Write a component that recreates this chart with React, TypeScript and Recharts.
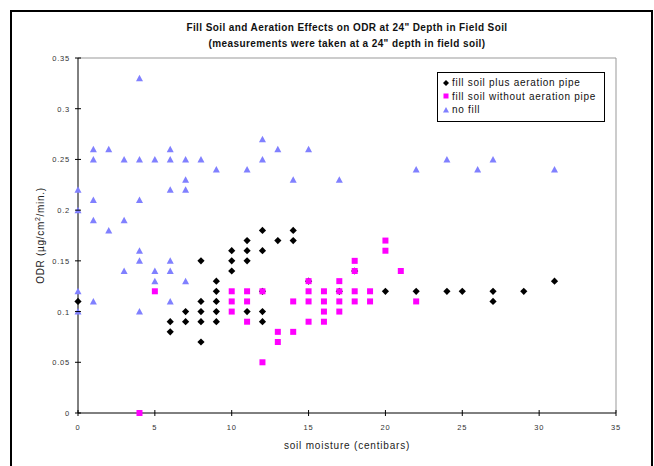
import { ScatterChart, Scatter, XAxis, YAxis, ReferenceLine, Legend } from "recharts";

const FONT = '"Liberation Sans", Arial, sans-serif';

const X_TICKS = [0, 5, 10, 15, 20, 25, 30, 35];
const Y_TICKS = [0, 0.05, 0.1, 0.15, 0.2, 0.25, 0.3, 0.35];

const SERIES_NAMES = [
  "fill soil plus aeration pipe",
  "fill soil without aeration pipe",
  "no fill",
];

// [soil moisture, ODR]
const withPipe: [number, number][] = [
  [0, 0.11], [6, 0.09], [6, 0.08], [7, 0.1], [7, 0.09],
  [8, 0.15], [8, 0.11], [8, 0.1], [8, 0.09], [8, 0.07],
  [9, 0.13], [9, 0.12], [9, 0.11], [9, 0.1], [9, 0.09],
  [10, 0.16], [10, 0.15], [10, 0.14],
  [11, 0.17], [11, 0.16], [11, 0.15], [11, 0.1],
  [12, 0.18], [12, 0.16], [12, 0.12], [12, 0.1], [12, 0.09],
  [13, 0.17], [14, 0.18], [14, 0.17],
  [15, 0.13], [17, 0.12], [18, 0.14],
  [20, 0.12], [22, 0.12], [24, 0.12], [25, 0.12],
  [27, 0.12], [27, 0.11], [29, 0.12], [31, 0.13],
];

const withoutPipe: [number, number][] = [
  [4, 0], [5, 0.12],
  [10, 0.12], [10, 0.11], [10, 0.1],
  [11, 0.12], [11, 0.11], [11, 0.09],
  [12, 0.12], [12, 0.05],
  [13, 0.08], [13, 0.07],
  [14, 0.11], [14, 0.08],
  [15, 0.13], [15, 0.12], [15, 0.11], [15, 0.09],
  [16, 0.12], [16, 0.11], [16, 0.1], [16, 0.09],
  [17, 0.13], [17, 0.12], [17, 0.11], [17, 0.1],
  [18, 0.15], [18, 0.14], [18, 0.12], [18, 0.11],
  [19, 0.12], [19, 0.11],
  [20, 0.17], [20, 0.16], [21, 0.14], [22, 0.11],
];

const noFill: [number, number][] = [
  [0, 0.22], [0, 0.2], [0, 0.12], [0, 0.1],
  [1, 0.26], [1, 0.25], [1, 0.21], [1, 0.19], [1, 0.11],
  [2, 0.26], [2, 0.18],
  [3, 0.25], [3, 0.19], [3, 0.14],
  [4, 0.33], [4, 0.25], [4, 0.21], [4, 0.16], [4, 0.15], [4, 0.1],
  [5, 0.25], [5, 0.14], [5, 0.13],
  [6, 0.26], [6, 0.25], [6, 0.22], [6, 0.15], [6, 0.14], [6, 0.11],
  [7, 0.25], [7, 0.23], [7, 0.22], [7, 0.13],
  [8, 0.25], [9, 0.24], [11, 0.24], [12, 0.27], [12, 0.25],
  [13, 0.26], [14, 0.23], [15, 0.26], [17, 0.23],
  [22, 0.24], [24, 0.25], [26, 0.24], [27, 0.25], [31, 0.24],
];

const toPoints = (pairs: [number, number][]) => pairs.map(([x, y]) => ({ x, y }));

const BLACK = "#000000";
const MAGENTA = "#ff00ff";
const PERI = "#8080ff";

const Diamond = ({ cx, cy, r = 3.6 }: any) => (
  <path d={`M${cx},${cy - r}L${cx + r},${cy}L${cx},${cy + r}L${cx - r},${cy}Z`} fill={BLACK} />
);
const Square = ({ cx, cy, s = 6 }: any) => (
  <rect x={cx - s / 2} y={cy - s / 2} width={s} height={s} fill={MAGENTA} />
);
const Triangle = ({ cx, cy, w = 7 }: any) => (
  <path d={`M${cx},${cy - w / 2}L${cx + w / 2},${cy + w / 2 - 0.5}L${cx - w / 2},${cy + w / 2 - 0.5}Z`} fill={PERI} />
);

const fmtY = (v: number) => String(Number(v.toFixed(2)));

const YTick = ({ x, y, payload }: any) => (
  <g>
    <line x1={x - 3} x2={x + 3} y1={y} y2={y} stroke="#000" />
    <text x={x - 8} y={y} dy={3} textAnchor="end" fontSize={7.5} letterSpacing={0.8} fill="#333" fontFamily={FONT}>
      {fmtY(payload.value)}
    </text>
  </g>
);

const XTick = ({ x, y, payload }: any) => (
  <g>
    <line x1={x} x2={x} y1={y - 3} y2={y + 3} stroke="#000" />
    <text x={x} y={y + 17} textAnchor="middle" fontSize={7.5} letterSpacing={0.8} fill="#333" fontFamily={FONT}>
      {payload.value}
    </text>
  </g>
);

const YLabel = ({ viewBox }: any) => {
  const cy = viewBox.y + viewBox.height / 2;
  return (
    <text x={44} y={cy} transform={`rotate(-90 44 ${cy})`} textAnchor="middle" fontSize={10} letterSpacing={0.7} fill="#222" fontFamily={FONT}>
      ODR (µg/cm<tspan dy={-4} fontSize={7}>2</tspan><tspan dy={4}>/min.)</tspan>
    </text>
  );
};

const LegendBox = () => {
  const markers = [
    <Diamond cx={5} cy={5} r={3} />,
    <Square cx={5} cy={5} s={5} />,
    <Triangle cx={5} cy={5} w={6} />,
  ];
  return (
    <div style={{ border: "1px solid #000", background: "#fff", padding: "3px 0 4px 3px", width: 168, boxSizing: "border-box" }}>
      {SERIES_NAMES.map((name, i) => (
        <div key={name} style={{ display: "flex", alignItems: "center", height: 13.5, fontSize: 10, letterSpacing: 0.7, color: "#111", fontFamily: FONT }}>
          <svg width={10} height={10} style={{ marginRight: 1 }}>{markers[i]}</svg>
          <span>{name}</span>
        </div>
      ))}
    </div>
  );
};

export default function App() {
  return (
    <div style={{ position: "absolute", left: 0, top: 0, width: 654, height: 466, overflow: "hidden", background: "#fff" }}>
      <div style={{ position: "absolute", left: 10, top: 10, width: 639, height: 480, border: "2px solid #000" }} />
      <div style={{ position: "absolute", left: 0, top: 0 }}>
        <ScatterChart width={654} height={466} margin={{ top: 58, right: 38, bottom: 23, left: 28 }}>
          <ReferenceLine y={0.35} stroke="#999" />
          <ReferenceLine x={35} stroke="#999" />
          <XAxis
            type="number"
            dataKey="x"
            domain={[0, 35]}
            ticks={X_TICKS}
            interval={0}
            height={30}
            axisLine={{ stroke: "#000" }}
            tickLine={false}
            tickSize={0}
            tickMargin={0}
            tick={<XTick />}
            label={{ value: "soil moisture (centibars)", position: "insideBottom", offset: -6, fontSize: 10, fill: "#222", fontFamily: FONT, letterSpacing: 0.8 }}
          />
          <YAxis
            type="number"
            dataKey="y"
            domain={[0, 0.35]}
            ticks={Y_TICKS}
            interval={0}
            width={50}
            axisLine={{ stroke: "#000" }}
            tickLine={false}
            tickSize={0}
            tickMargin={0}
            tick={<YTick />}
            label={<YLabel />}
          />
          <Legend
            layout="vertical"
            align="center"
            verticalAlign="middle"
            content={<LegendBox />}
            wrapperStyle={{ position: "absolute", left: 437, top: 72, width: 168, height: 48 }}
          />
          <Scatter name={SERIES_NAMES[0]} data={toPoints(withPipe)} shape={<Diamond />} isAnimationActive={false} />
          <Scatter name={SERIES_NAMES[1]} data={toPoints(withoutPipe)} shape={<Square />} isAnimationActive={false} />
          <Scatter name={SERIES_NAMES[2]} data={toPoints(noFill)} shape={<Triangle />} isAnimationActive={false} />
        </ScatterChart>
      </div>
      <div style={{ position: "absolute", left: 78, width: 538, top: 20, textAlign: "center", fontFamily: FONT, fontWeight: "bold", fontSize: 10, letterSpacing: 0.4, color: "#111", lineHeight: "16px" }}>
        <div>Fill Soil and Aeration Effects on ODR at 24" Depth in Field Soil</div>
        <div>(measurements were taken at a 24" depth in field soil)</div>
      </div>
    </div>
  );
}
